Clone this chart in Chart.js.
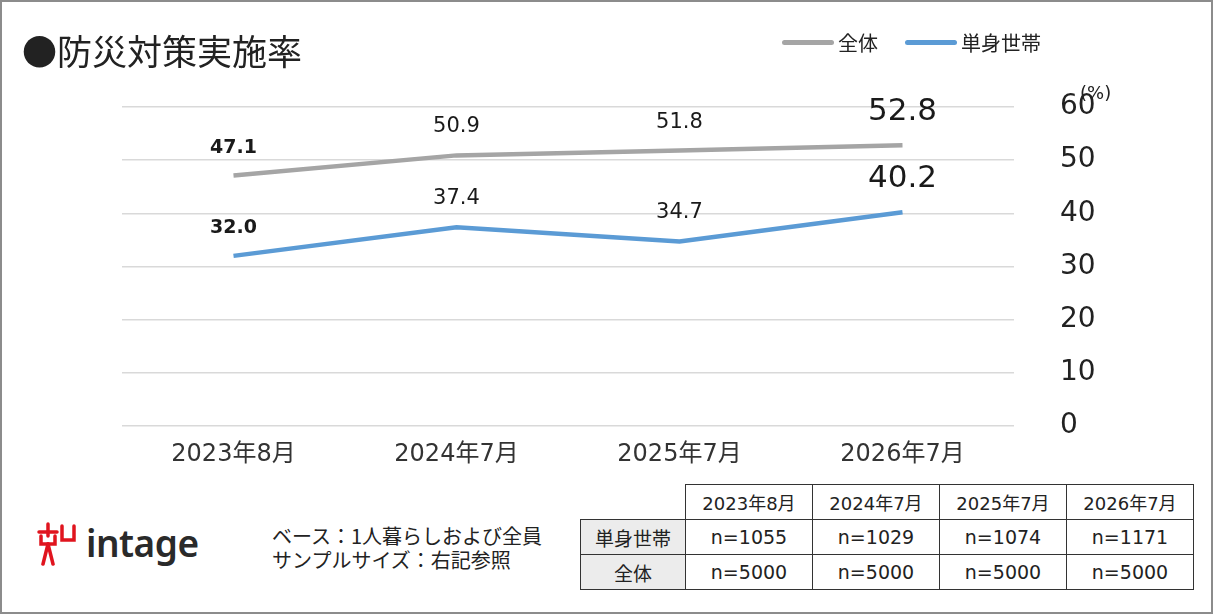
<!DOCTYPE html>
<html>
<head>
<meta charset="utf-8">
<script src="https://cdn.jsdelivr.net/npm/chart.js@4"></script>
<style>
  body { margin: 0; background: #fff; font-family: "DejaVu Sans", "Noto Sans CJK JP", sans-serif; color: #222; }
  #frame { position: relative; width: 1209px; height: 610px; border: 2px solid #8c8c8c; overflow: hidden; }
  #chart { position: absolute; left: -2px; top: -2px; }
  .title { position: absolute; left: 20px; top: 22px; font-size: 35px; font-family: "Noto Sans CJK JP", sans-serif; color: #222; }
  .legend { position: absolute; top: 26px; font-size: 20px; font-family: "Noto Sans CJK JP", sans-serif; color: #222; display: flex; align-items: center; }
  .legend span.line { display: inline-block; width: 52px; height: 5px; border-radius: 3px; margin-right: 4px; }
  .unit { position: absolute; left: 1078px; top: 80px; font-size: 18px; color: #222; }
  .note { position: absolute; left: 270px; top: 522px; font-size: 20px; line-height: 24px; font-family: "Noto Sans CJK JP", sans-serif; color: #222; }
  .logo { position: absolute; left: 34px; top: 518px; display: flex; align-items: center; }
  .logo .word { font-family: "Noto Sans", sans-serif; font-size: 37px; font-weight: 600; color: #2a2a2a; margin-left: 8px; letter-spacing: -0.5px; line-height: 40px; }
  table { position: absolute; left: 578px; top: 482px; border-collapse: collapse; font-size: 19px; }
  td { border: 1px solid #333; text-align: center; height: 34px; padding: 0; }
  td.head { width: 104px; background: #ececec; font-family: "Noto Sans CJK JP", sans-serif; }
  td.blank { border: none; }
  td.col { width: 126px; font-size: 18px; }
</style>
</head>
<body>
<div id="frame">
  <canvas id="chart" width="1213" height="480"></canvas>
  <div class="title">●防災対策実施率</div>
  <div class="legend" style="left:780px"><span class="line" style="background:#a5a5a5"></span>全体</div>
  <div class="legend" style="left:903px"><span class="line" style="background:#5b9bd5"></span>単身世帯</div>
  <div class="unit">(%)</div>
  <div class="logo">
    <svg width="42" height="46" viewBox="0 0 42 46">
      <g stroke="#e0141e" stroke-width="3.5" fill="none" stroke-linecap="round">
        <line x1="12" y1="4" x2="12" y2="16"/>
        <line x1="3" y1="12" x2="21" y2="12"/>
        <path d="M5 16 L5 24 L19 24 L19 16"/>
        <line x1="12" y1="24" x2="7" y2="44"/>
        <line x1="12" y1="24" x2="17" y2="44"/>
        <path d="M26 6 L26 20 L38 20 L38 6"/>
      </g>
    </svg>
    <span class="word">intage</span>
  </div>
  <div class="note">ベース：1人暮らしおよび全員<br>サンプルサイズ：右記参照</div>
  <table id="ntable"></table>
</div>
<script>
const periods = ["2023年8月", "2024年7月", "2025年7月", "2026年7月"];
const totalRate = [47.1, 50.9, 51.8, 52.8];
const singleRate = [32.0, 37.4, 34.7, 40.2];
const singleN = [1055, 1029, 1074, 1171];
const totalN = [5000, 5000, 5000, 5000];
const yTicks = [0, 10, 20, 30, 40, 50, 60];

// label look per point: first bold, last large
const labelFonts = [
  { size: 19, weight: "bold" },
  { size: 21, weight: "normal" },
  { size: 21, weight: "normal" },
  { size: 31, weight: "normal" }
];

// sample size table
const table = document.getElementById("ntable");
let html = '<tr><td class="blank"></td>' + periods.map(p => '<td class="col">' + p + '</td>').join("") + "</tr>";
html += '<tr><td class="head">単身世帯</td>' + singleN.map(n => "<td>n=" + n + "</td>").join("") + "</tr>";
html += '<tr><td class="head">全体</td>' + totalN.map(n => "<td>n=" + n + "</td>").join("") + "</tr>";
table.innerHTML = html;

const pointLabels = {
  id: "pointLabels",
  afterDatasetsDraw(chart) {
    const ctx = chart.ctx;
    chart.data.datasets.forEach((ds, i) => {
      const meta = chart.getDatasetMeta(i);
      meta.data.forEach((pt, j) => {
        const f = labelFonts[j];
        ctx.save();
        ctx.font = f.weight + " " + f.size + "px 'DejaVu Sans', sans-serif";
        ctx.fillStyle = "#1a1a1a";
        ctx.textAlign = "center";
        ctx.textBaseline = "bottom";
        ctx.fillText(ds.data[j].toFixed(1), pt.x, pt.y - 18);
        ctx.restore();
      });
    });
  }
};

new Chart(document.getElementById("chart"), {
  type: "line",
  data: {
    labels: periods,
    datasets: [
      { label: "全体", data: totalRate, borderColor: "#a5a5a5", borderWidth: 4.5, pointRadius: 0, tension: 0 },
      { label: "単身世帯", data: singleRate, borderColor: "#5b9bd5", borderWidth: 4.5, pointRadius: 0, tension: 0 }
    ]
  },
  options: {
    responsive: false,
    animation: false,
    layout: { padding: { left: 122, top: 107, right: 0, bottom: 0 } },
    plugins: { legend: { display: false }, tooltip: { enabled: false } },
    scales: {
      x: {
        offset: true,
        grid: { display: false },
        border: { display: false },
        ticks: { color: "#333", font: { size: 24, family: "'DejaVu Sans', 'Noto Sans CJK JP'" }, padding: 6 },
        afterFit(s) { s.height = 54; }
      },
      y: {
        position: "right",
        min: 0,
        max: 60,
        afterBuildTicks(s) { s.ticks = yTicks.map(v => ({ value: v })); },
        grid: { color: "#d9d9d9", lineWidth: 1.5, drawTicks: false },
        border: { display: false },
        ticks: { color: "#222", font: { size: 28, family: "'DejaVu Sans'" }, padding: 46 },
        afterFit(s) {
          s.width = 199;
          // tick padding would otherwise push the plot bottom up
          s.paddingTop = 17;
          s.paddingBottom = 17;
        }
      }
    }
  },
  plugins: [pointLabels]
});
</script>
</body>
</html>
